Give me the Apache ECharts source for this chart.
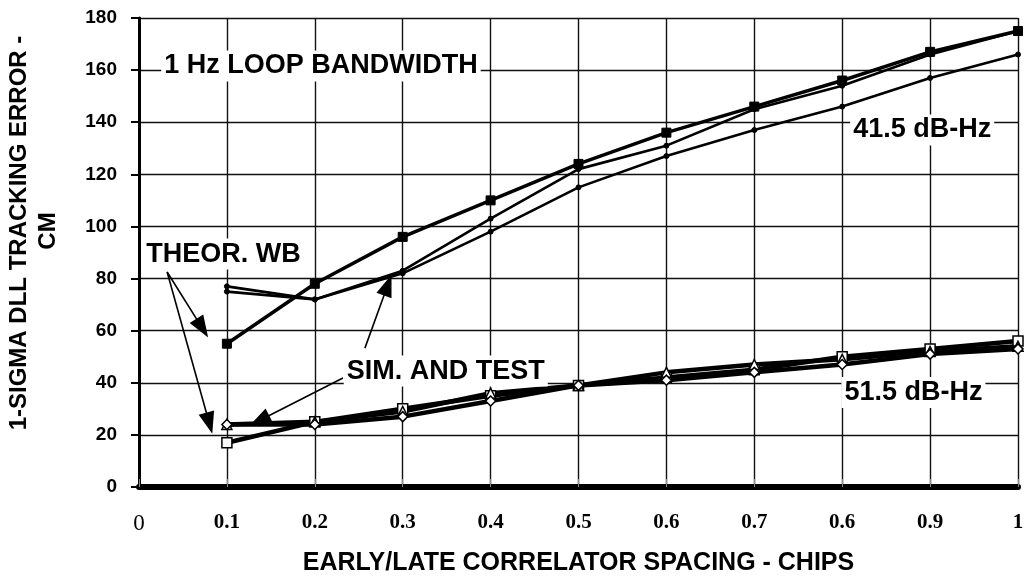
<!DOCTYPE html>
<html>
<head>
<meta charset="utf-8">
<script src="https://cdn.jsdelivr.net/npm/echarts@6/dist/echarts.min.js"></script>
<style>
html,body{margin:0;padding:0;background:#fff;}
#chart{width:1024px;height:576px;}
</style>
</head>
<body>
<div id="chart"></div>
<script>
// ---- data ----
var spacing = [0.1, 0.2, 0.3, 0.4, 0.5, 0.6, 0.7, 0.8, 0.9, 1.0];
var xTickLabels = ['0', '0.1', '0.2', '0.3', '0.4', '0.5', '0.6', '0.7', '0.6', '0.9', '1'];
var yTicks = [0, 20, 40, 60, 80, 100, 120, 140, 160, 180];

// 41.5 dB-Hz group
var theor41 = [55, 78, 96, 110, 124, 136, 146, 156, 167, 175];
var sim41   = [77, 72, 83, 103, 122, 131, 145, 154, 166, 175];
var test41  = [75, 72, 82, 98, 115, 127, 137, 146, 157, 166];

// 51.5 dB-Hz group
var theor51 = [17, 25, 30, 35, 39, 42, 45, 50, 53, 56];
var sim51   = [24, 25, 29, 36, 39, 44, 47, 49, 52, 54];
var test51  = [24, 24, 27, 33, 39, 41, 44, 47, 51, 53];

// annotations (data coordinates)
var notes = [
  {text: '1 Hz LOOP BANDWIDTH', x: 0.207, y: 161.6},
  {text: '41.5 dB-Hz', x: 0.891, y: 137},
  {text: 'THEOR. WB', x: 0.096, y: 89.4},
  {text: 'SIM. AND TEST', x: 0.349, y: 44.5},
  {text: '51.5 dB-Hz', x: 0.881, y: 36.3}
];
var arrows = [
  {from: [0.032, 82.5], to: [0.072, 61]},
  {from: [0.032, 82.5], to: [0.080, 24.5]},
  {from: [0.257, 53.3], to: [0.283, 77.5]},
  {from: [0.232, 41.8], to: [0.137, 25.5]}
];

function pairs(ys) { return spacing.map(function (x, i) { return [x, ys[i]]; }); }

var chart = echarts.init(document.getElementById('chart'), null, {renderer: 'canvas'});

var upperLine = function (name, ys, width, sym, size) {
  return {
    name: name, type: 'line', data: pairs(ys), z: 3,
    lineStyle: {color: '#000', width: width},
    symbol: sym, symbolSize: size,
    itemStyle: {color: '#000', borderColor: '#000', borderWidth: 1}
  };
};
var lowerLine = function (name, ys, sym, size) {
  return {
    name: name, type: 'line', data: pairs(ys), z: 3,
    lineStyle: {color: '#000', width: 4.5},
    symbol: sym, symbolSize: size,
    itemStyle: {color: '#fff', borderColor: '#000', borderWidth: 1.5}
  };
};

var series = [
  upperLine('Theor 41.5', theor41, 3.5, 'rect', 9),
  upperLine('Sim 41.5', sim41, 2.6, 'circle', 5),
  upperLine('Test 41.5', test41, 2.6, 'circle', 5),
  lowerLine('Theor 51.5', theor51, 'rect', 10),
  lowerLine('Sim 51.5', sim51, 'triangle', 10),
  lowerLine('Test 51.5', test51, 'diamond', 10)
];

series.push({
  name: 'notes', type: 'line', data: [], z: 5,
  markPoint: {
    symbol: 'circle', symbolSize: 1,
    itemStyle: {color: 'rgba(0,0,0,0)'},
    label: {
      show: true, position: 'inside', color: '#000',
      fontFamily: 'Liberation Sans, Arial, sans-serif', fontWeight: 'bold', fontSize: 27,
      backgroundColor: '#fff', padding: [2, 3],
      formatter: function (p) { return p.name; }
    },
    data: notes.map(function (n) { return {name: n.text, coord: [n.x, n.y]}; })
  },
  markLine: {
    silent: true, symbol: ['none', 'triangle'], symbolSize: [16, 22],
    label: {show: false},
    lineStyle: {color: '#000', width: 1.6, type: 'solid'},
    data: arrows.map(function (a) { return [{coord: a.from}, {coord: a.to}]; })
  }
});

chart.setOption({
  animation: false,
  backgroundColor: '#fff',
  grid: {left: 139, right: 6, top: 18, bottom: 89, containLabel: false, outerBoundsMode: 'none'},
  xAxis: {
    type: 'value', min: 0, max: 1, interval: 0.1,
    axisLine: {show: true, onZero: false, lineStyle: {color: '#000', width: 6}},
    axisTick: {show: true, inside: true, length: 8, lineStyle: {color: '#888', width: 1}},
    splitLine: {show: true, lineStyle: {color: '#111', width: 1.4}},
    axisLabel: {
      margin: 25,
      formatter: function (v) {
        var i = Math.round(v * 10);
        var t = xTickLabels[i];
        return i === 0 ? '{n|' + t + '}' : '{b|' + t + '}';
      },
      rich: {
        n: {fontFamily: 'Liberation Serif, serif', fontSize: 23, fontWeight: 'normal', color: '#000'},
        b: {fontFamily: 'Liberation Serif, serif', fontSize: 21, fontWeight: 'bold', color: '#000'}
      }
    },
    name: 'EARLY/LATE CORRELATOR SPACING - CHIPS',
    nameLocation: 'middle', nameGap: 64,
    nameTextStyle: {fontFamily: 'Liberation Sans, Arial, sans-serif', fontWeight: 'bold', fontSize: 25, color: '#000'}
  },
  yAxis: {
    type: 'value', min: 0, max: 180, interval: 20,
    axisLine: {show: true, lineStyle: {color: '#000', width: 3}},
    axisTick: {show: true, length: 8, lineStyle: {color: '#000', width: 2}},
    splitLine: {show: true, lineStyle: {color: '#111', width: 1.4}},
    axisLabel: {
      margin: 22, color: '#000',
      fontFamily: 'Liberation Sans, Arial, sans-serif', fontWeight: 'bold', fontSize: 19,
      formatter: function (v) { return yTicks.indexOf(v) >= 0 ? String(v) : ''; }
    }
  },
  graphic: [
    {type: 'text', x: 19, y: 233, rotation: Math.PI / 2,
     style: {text: '1-SIGMA DLL TRACKING ERROR -', fill: '#000', align: 'center', verticalAlign: 'middle',
             font: 'bold 24px "Liberation Sans", Arial, sans-serif'}},
    {type: 'text', x: 48, y: 231, rotation: Math.PI / 2,
     style: {text: 'CM', fill: '#000', align: 'center', verticalAlign: 'middle',
             font: 'bold 24px "Liberation Sans", Arial, sans-serif'}}
  ],
  series: series
});
</script>
</body>
</html>
